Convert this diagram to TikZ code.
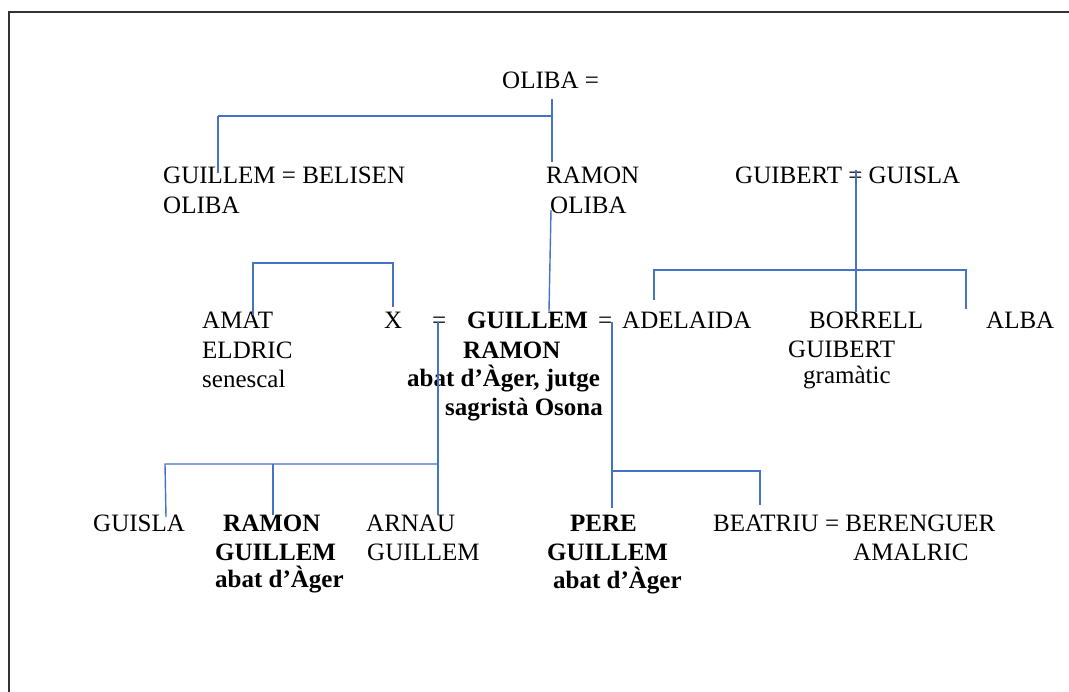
\documentclass[tikz,border=0pt]{standalone}
\usepackage{fontspec}
\setmainfont{Liberation Serif}
\definecolor{linkblue}{HTML}{4472C4}
\definecolor{framegray}{HTML}{333333}
\begin{document}
\begin{tikzpicture}[x=1pt,y=-1pt,
  txt/.style={anchor=base west,inner sep=0pt,font=\fontsize{25}{30}\selectfont},
  bld/.style={anchor=base west,inner sep=0pt,font=\fontsize{25}{30}\selectfont\bfseries},
  link/.style={draw=linkblue,line width=1.4pt},
  frameline/.style={draw=framegray,line width=1.8pt}]
\useasboundingbox (0,0) rectangle (1069,692);

% page frame (top and left edges)
\draw[frameline] (9.2,700) -- (9.2,11.7) -- (1075,11.7);

% ---- generation 1
\node[txt] (oliba) at (502,89) {OLIBA =};

% ---- generation 2
\node[txt] (guillem1) at (163,184) {GUILLEM = BELISEN};
\node[txt] (guillem2) at (163,214) {OLIBA};
\node[txt] (ramon1) at (546,184) {RAMON};
\node[txt] (ramon2) at (550,214) {OLIBA};
\node[txt] (guibert) at (735,184) {GUIBERT = GUISLA};

% ---- generation 3
\node[txt] (amat1) at (202,329) {AMAT};
\node[txt] (amat2) at (202,359) {ELDRIC};
\node[txt] (amat3) at (202,388) {senescal};
\node[txt] (x) at (384,329) {X};
\node[txt] (eqx) at (432,329) {=};
\node[bld] (gr1) at (467,329) {GUILLEM};
\node[txt] (eqa) at (598,329) {=};
\node[txt] (adelaida) at (622,329) {ADELAIDA};
\node[bld] (gr2) at (463,359) {RAMON};
\node[bld] (gr3) at (407,387) {abat d’Àger, jutge};
\node[bld] (gr4) at (445,416) {sagristà Osona};
\node[txt] (borrell1) at (809,329) {BORRELL};
\node[txt] (borrell2) at (788,358) {GUIBERT};
\node[txt] (borrell3) at (803,384) {gramàtic};
\node[txt] (alba) at (986,329) {ALBA};

% ---- generation 4
\node[txt] (guisla) at (93,532) {GUISLA};
\node[bld] (rg1) at (223,532) {RAMON};
\node[bld] (rg2) at (215,561) {GUILLEM};
\node[bld] (rg3) at (215,587) {abat d’Àger};
\node[txt] (ag1) at (366,532) {ARNAU};
\node[txt] (ag2) at (367,561) {GUILLEM};
\node[bld] (pg1) at (570,532) {PERE};
\node[bld] (pg2) at (547,561) {GUILLEM};
\node[bld] (pg3) at (553,588) {abat d’Àger};
\node[txt] (beatriu1) at (713,532) {BEATRIU = BERENGUER};
\node[txt] (beatriu2) at (853,561) {AMALRIC};

% ---- junction points of the family lines
\coordinate (o-top) at (552,99);
\coordinate (o-bus) at (552,116);
\coordinate (o-bot) at (552,162);
\coordinate (o-left) at (218,116);
\coordinate (o-g) at (218,173);
\coordinate (r-top) at (551,210);
\coordinate (r-gr) at (549,311);

\coordinate (gb-top) at (856,170);
\coordinate (gb-bus) at (856,270);
\coordinate (gb-bot) at (856,312);
\coordinate (gb-l) at (654,270);
\coordinate (gb-ad) at (654,300);
\coordinate (gb-r) at (966,270);
\coordinate (gb-al) at (966,309);

\coordinate (am-a) at (253,315);
\coordinate (am-l) at (253,263);
\coordinate (am-r) at (393,263);
\coordinate (am-x) at (393,307);

\coordinate (xg-top) at (438,322);
\coordinate (xg-bus) at (438,464);
\coordinate (xg-bot) at (438,515);
\coordinate (xg-l) at (165,464);
\coordinate (xg-gu) at (166,517);
\coordinate (xg-m) at (273,464);
\coordinate (xg-rg) at (273,515);

\coordinate (ga-top) at (612,322);
\coordinate (ga-bus) at (612,471);
\coordinate (ga-bot) at (612,508);
\coordinate (ga-r) at (760,471);
\coordinate (ga-be) at (760,505);

% ---- family lines
\draw[link] (o-top) -- (o-bot);
\draw[link] (o-left) -- (o-bus);
\draw[link] (o-left) -- (o-g);
\draw[link] (r-top) -- (r-gr);

\draw[link] (gb-top) -- (gb-bot);
\draw[link] (gb-ad) -- (gb-l) -- (gb-r) -- (gb-al);

\draw[link] (am-a) -- (am-l) -- (am-r) -- (am-x);

\draw[link] (xg-top) -- (xg-bot);
\draw[link] (xg-gu) -- (xg-l) -- (xg-bus);
\draw[link] (xg-m) -- (xg-rg);

\draw[link] (ga-top) -- (ga-bot);
\draw[link] (ga-bus) -- (ga-r) -- (ga-be);
\end{tikzpicture}
\end{document}
